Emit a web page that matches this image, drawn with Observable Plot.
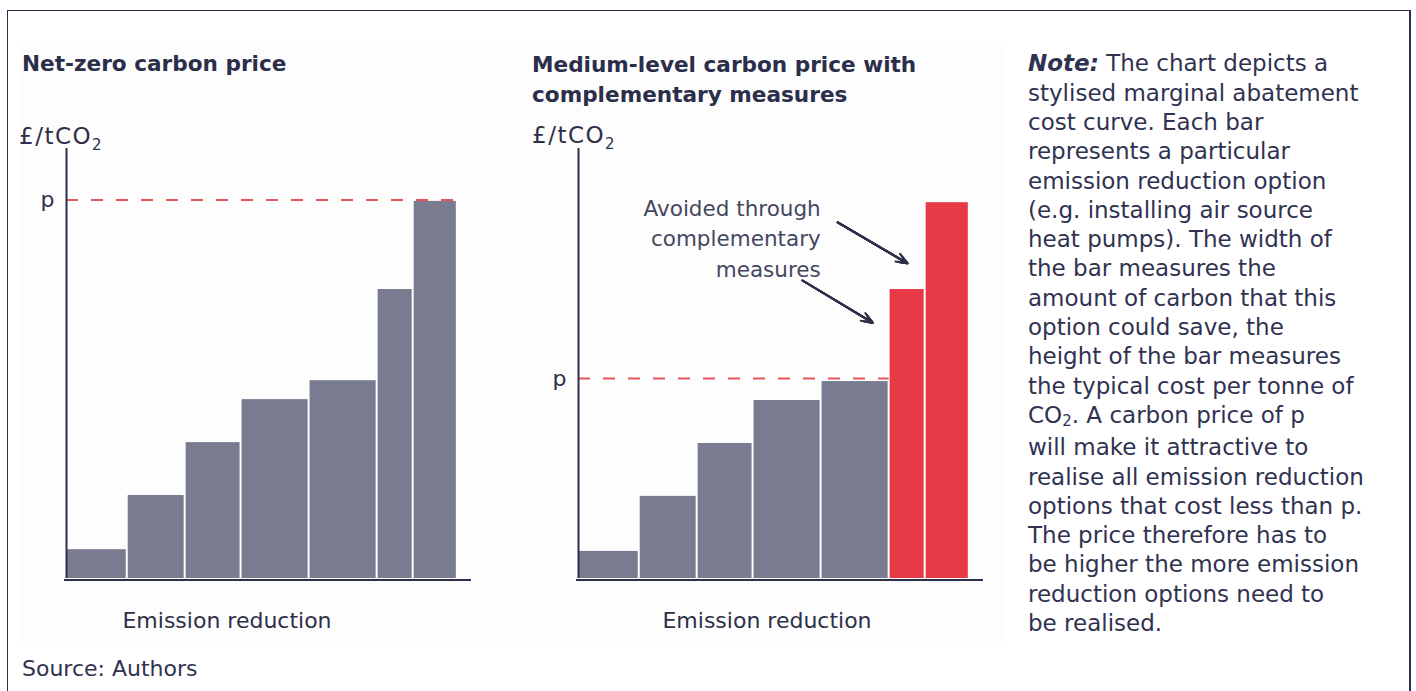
<!DOCTYPE html>
<html><head><meta charset="utf-8">
<script src="https://cdn.jsdelivr.net/npm/d3@7"></script>
<script src="https://cdn.jsdelivr.net/npm/@observablehq/plot@0.6"></script>
<style>
html,body{margin:0;padding:0;background:#fff;overflow:hidden}
#root{position:relative;width:1416px;height:691px;overflow:hidden;font-family:"DejaVu Sans",sans-serif;color:#2d3048}
.abs{position:absolute;white-space:nowrap}
.title{font-family:"DejaVu Sans",sans-serif;font-weight:700;font-size:21.6px;line-height:30px;color:#2b2e4a}
.ylab{font-family:"DejaVu Sans",sans-serif;font-size:23px;line-height:26px;letter-spacing:1.5px;color:#2d3048}
.ylab span{font-size:15px;position:relative;top:6px;letter-spacing:0}
.xlab{font-family:"DejaVu Sans",sans-serif;font-size:22px;line-height:26px;color:#2d3048;transform:translateX(-50%)}
.note{font-family:"DejaVu Sans",sans-serif;font-size:23px;line-height:29.3px;color:#2f3250}
.note .sub{font-size:15px;position:relative;top:3px}
.source{font-family:"DejaVu Sans",sans-serif;font-size:22px;line-height:26px;color:#2f3250}
.plot{position:absolute}
</style></head><body><div id="root"></div>
<script>
// ---- data ----
const options = ["Option 1","Option 2","Option 3","Option 4","Option 5","Option 6","Option 7"];
const abatement = [15.0, 14.3, 13.8, 16.8, 16.8, 8.9, 10.9];          // bar widths (emission reduction)
const costNetZero = [6.7, 19.3, 31.6, 41.6, 46.0, 67.2, 87.7];        // bar heights (£/tCO2)
const costMedium = [6.3, 19.1, 31.4, 41.4, 45.8, 67.2, 87.4];
const statusNetZero = ["realised","realised","realised","realised","realised","realised","realised"];
const statusMedium = ["realised","realised","realised","realised","realised","avoided","avoided"];
const priceNetZero = 88.0;
const priceMedium = 46.5;
const priceLabel = "p";
const annotationText = ["Avoided through","complementary","measures"];
const annotationPos = {x: 59.8, y: 89.2};
const arrowsMedium = [
  {x1: 64.0, y1: 82.8, x2: 81.2, y2: 73.3},
  {x1: 55.3, y1: 69.3, x2: 72.6, y2: 59.5}
];
const titleNetZero = ["Net-zero carbon price"];
const titleMedium = ["Medium-level carbon price with","complementary measures"];
const yLabel = "£/tCO";
const xLabel = "Emission reduction";
const sourceText = "Source: Authors";
const noteLines = [
  "<b><i>Note:</i></b> The chart depicts a",
  "stylised marginal abatement",
  "cost curve. Each bar",
  "represents a particular",
  "emission reduction option",
  "(e.g. installing air source",
  "heat pumps). The width of",
  "the bar measures the",
  "amount of carbon that this",
  "option could save, the",
  "height of the bar measures",
  "the typical cost per tonne of",
  "CO<span class='sub'>2</span>. A carbon price of p",
  "will make it attractive to",
  "realise all emission reduction",
  "options that cost less than p.",
  "The price therefore has to",
  "be higher the more emission",
  "reduction options need to",
  "be realised."
];

// ---- styles ----
const GREY = "#797b90", RED = "#e63b47", DASH = "#e4555c", AXIS = "#2d3048";
const HEADS = [9, 7.5, 6, 4.5, 3, 1.5];

const root = document.getElementById("root");
function add(html, cls, style) {
  const d = document.createElement("div");
  d.className = "abs " + cls;
  d.innerHTML = html;
  Object.assign(d.style, style);
  root.appendChild(d);
  return d;
}
// frame & panel background
add("", "", {left:"7px", top:"9.5px", width:"1401px", height:"720px", borderTop:"1.5px solid #2d3048", borderLeft:"1.5px solid #2d3048", borderRight:"2px solid #2d3048"});
add("", "", {left:"20px", top:"45px", width:"984px", height:"597px", background:"#fdfdfd"});

function panel(cost, status, price, annotate) {
  let acc = 0;
  const rows = options.map((o, i) => {
    const r = {option: o, x1: acc, x2: acc + abatement[i], cost: cost[i], status: status[i]};
    acc += abatement[i];
    return r;
  });
  const priceEnd = d3.max(rows.filter(r => r.cost <= price), r => r.x2);
  const marks = [
    Plot.rectY(rows, {x1: "x1", x2: "x2", y1: 0, y2: "cost", fill: "status", insetLeft: 1, insetRight: 1}),
    Plot.ruleY([price], {x1: 0, x2: priceEnd, stroke: DASH, strokeWidth: 2, strokeDasharray: "12,13"}),
    Plot.ruleX([0], {y1: 0, y2: 100, stroke: AXIS, strokeWidth: 2}),
    Plot.ruleY([0], {x1: -0.5, x2: 100, stroke: AXIS, strokeWidth: 2, dy: 1.5})
  ];
  if (annotate) {
    marks.push(Plot.text([annotationText.join("\n")], {x: annotationPos.x, y: annotationPos.y, text: d => d,
      textAnchor: "end", lineAnchor: "top", lineHeight: 1.4, fontSize: 21.5, fill: "#44475f"}));
    for (const h of HEADS) {
      marks.push(Plot.arrow(arrowsMedium, {x1: "x1", y1: "y1", x2: "x2", y2: "y2", stroke: AXIS,
        strokeWidth: 2, headLength: h, headAngle: 44}));
    }
  }
  return Plot.plot({
    width: 500, height: 540,
    marginLeft: 66, marginRight: 29, marginTop: 38, marginBottom: 72,
    x: {domain: [0, 100], axis: null},
    y: {domain: [0, 100], ticks: [price], tickFormat: () => priceLabel, tickSize: 0, tickPadding: 12, label: null},
    color: {domain: ["realised", "avoided"], range: [GREY, RED]},
    style: {fontFamily: "'DejaVu Sans', sans-serif", fontSize: "22px", color: AXIS, background: "transparent", overflow: "visible"},
    marks
  });
}

const p1 = panel(costNetZero, statusNetZero, priceNetZero, false);
p1.classList.add("plot"); p1.style.left = "0px"; p1.style.top = "110px";
root.appendChild(p1);
const p2 = panel(costMedium, statusMedium, priceMedium, true);
p2.classList.add("plot"); p2.style.left = "512px"; p2.style.top = "110px";
root.appendChild(p2);

// text
add(titleNetZero.join("<br>"), "title", {left: "22px", top: "49px"});
add(titleMedium.join("<br>"), "title", {left: "532px", top: "49.5px"});
add(yLabel + "<span>2</span>", "ylab", {left: "19px", top: "123px"});
add(yLabel + "<span>2</span>", "ylab", {left: "532px", top: "122px"});
add(xLabel, "xlab", {left: "227px", top: "608px"});
add(xLabel, "xlab", {left: "767px", top: "608px"});
add(sourceText, "source", {left: "22px", top: "656px"});
add(noteLines.join("<br>"), "note", {left: "1028px", top: "49.4px"});
</script></body></html>
